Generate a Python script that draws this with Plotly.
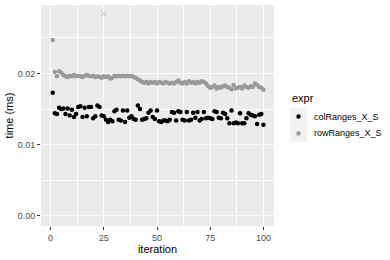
import plotly.graph_objects as go

iterations = list(range(1, 101))

col_ranges = [
    0.0173, 0.0144, 0.0143, 0.0152, 0.0150, 0.0151, 0.0143, 0.0151, 0.0141, 0.0149,
    0.0139, 0.0143, 0.0153, 0.0154, 0.0139, 0.0152, 0.0140, 0.0153, 0.0153, 0.0137,
    0.0140, 0.0155, 0.0153, 0.0141, 0.0140, 0.0135, 0.0132, 0.0135, 0.0133, 0.0147,
    0.0149, 0.0135, 0.0134, 0.0148, 0.0132, 0.0148, 0.0138, 0.0140, 0.0136, 0.0135,
    0.0155, 0.0150, 0.0135, 0.0136, 0.0137, 0.0145, 0.0148, 0.0139, 0.0136, 0.0148,
    0.0133, 0.0132, 0.0134, 0.0134, 0.0133, 0.0135, 0.0146, 0.0145, 0.0134, 0.0147,
    0.0146, 0.0135, 0.0134, 0.0146, 0.0134, 0.0135, 0.0145, 0.0138, 0.0146, 0.0134,
    0.0136, 0.0146, 0.0137, 0.0138, 0.0137, 0.0136, 0.0147, 0.0146, 0.0138, 0.0137,
    0.0145, 0.0143, 0.0137, 0.0130, 0.0148, 0.0130, 0.0131, 0.0130, 0.0144, 0.0130,
    0.0130, 0.0137, 0.0144, 0.0142, 0.0141, 0.0140, 0.0129, 0.0142, 0.0143, 0.0128,
]

row_ranges = [
    0.0247, 0.0202, 0.0196, 0.0203, 0.0201, 0.0198, 0.0196, 0.0195, 0.0197, 0.0196,
    0.0198, 0.0196, 0.0197, 0.0196, 0.0195, 0.0197, 0.0198, 0.0197, 0.0196, 0.0197,
    0.0195, 0.0196, 0.0195, 0.0194, 0.0196, 0.0195, 0.0196, 0.0193, 0.0194, 0.0197,
    0.0196, 0.0197, 0.0196, 0.0197, 0.0196, 0.0197, 0.0196, 0.0197, 0.0195, 0.0194,
    0.0192, 0.0190, 0.0188, 0.0187, 0.0188, 0.0186, 0.0188, 0.0187, 0.0188, 0.0186,
    0.0188, 0.0187, 0.0186, 0.0188, 0.0187, 0.0186, 0.0187, 0.0186, 0.0188, 0.0190,
    0.0187, 0.0186, 0.0188, 0.0186, 0.0189, 0.0187, 0.0188, 0.0186, 0.0188, 0.0187,
    0.0189, 0.0188, 0.0186, 0.0182, 0.0180, 0.0181, 0.0183, 0.0179, 0.0181, 0.0180,
    0.0182, 0.0183, 0.0181, 0.0180, 0.0178, 0.0184, 0.0179, 0.0180, 0.0181, 0.0179,
    0.0183, 0.0181, 0.0180, 0.0182, 0.0181, 0.0186, 0.0184, 0.0181, 0.0180, 0.0177,
]

outlier_x = [25]
outlier_y = [0.0284]

series_names = ["colRanges_X_S", "rowRanges_X_S"]
series_colors = ["#000000", "#999999"]

x_ticks = [0, 25, 50, 75, 100]
y_ticks = [0.00, 0.01, 0.02]
y_tick_labels = ["0.00", "0.01", "0.02"]

W, H = 390, 260
ML, MR, MT, MB = 41, 116, 5, 34
PW = W - ML - MR
PH = H - MT - MB


def px_to_paper_x(px):
    return (px - ML) / PW


def px_to_paper_y(py):
    return (H - MB - py) / PH


fig = go.Figure()
for name, color, values in zip(series_names, series_colors, [col_ranges, row_ranges]):
    fig.add_trace(go.Scatter(
        x=iterations, y=values, mode="markers", name=name, showlegend=False,
        marker=dict(color=color, size=4.5),
    ))
fig.add_trace(go.Scatter(
    x=outlier_x, y=outlier_y, mode="markers", showlegend=False,
    marker=dict(color="#BBBBBB", size=5, symbol="x-thin", line=dict(color="#BBBBBB", width=1)),
))

# legend drawn in ggplot style: title, grey95 keys, dots, labels
fig.add_annotation(
    text="expr", xref="paper", yref="paper",
    x=px_to_paper_x(290), y=px_to_paper_y(98),
    xanchor="left", yanchor="middle", showarrow=False,
    font=dict(size=11, color="#000000"),
)
for i, (name, color) in enumerate(zip(series_names, series_colors)):
    top = 108 + 17 * i
    cy = top + 8.5
    fig.add_shape(
        type="rect", xref="paper", yref="paper",
        x0=px_to_paper_x(290), x1=px_to_paper_x(307),
        y0=px_to_paper_y(top + 17), y1=px_to_paper_y(top),
        fillcolor="#F2F2F2", line=dict(width=0), layer="below",
    )
    r = 2.2
    fig.add_shape(
        type="circle", xref="paper", yref="paper",
        x0=px_to_paper_x(298.5 - r), x1=px_to_paper_x(298.5 + r),
        y0=px_to_paper_y(cy + r), y1=px_to_paper_y(cy - r),
        fillcolor=color, line=dict(width=0),
    )
    fig.add_annotation(
        text=name, xref="paper", yref="paper",
        x=px_to_paper_x(312), y=px_to_paper_y(cy),
        xanchor="left", yanchor="middle", showarrow=False,
        font=dict(size=9, color="#000000"),
    )

fig.update_layout(
    width=W, height=H,
    margin=dict(l=ML, r=MR, t=MT, b=MB, autoexpand=False),
    paper_bgcolor="white",
    plot_bgcolor="#EBEBEB",
    font=dict(family="Liberation Sans, Arial, sans-serif", color="#000000"),
    showlegend=False,
)
fig.update_xaxes(
    range=[-4.5, 104.95], tickvals=x_ticks, ticks="outside", ticklen=3,
    tickcolor="#333333", tickfont=dict(size=9, color="#4D4D4D"),
    showgrid=True, gridcolor="white", gridwidth=1.1, zeroline=False,
    minor=dict(tickvals=[12.5, 37.5, 62.5, 87.5], showgrid=True, gridcolor="white", gridwidth=0.5, ticks=""),
    title=dict(text="iteration", font=dict(size=11), standoff=2),
)
fig.update_yaxes(
    range=[-0.00142, 0.02962], tickvals=y_ticks, ticktext=y_tick_labels, ticks="outside", ticklen=3,
    tickcolor="#333333", tickfont=dict(size=9, color="#4D4D4D"),
    showgrid=True, gridcolor="white", gridwidth=1.1, zeroline=False,
    minor=dict(tickvals=[0.005, 0.015, 0.025], showgrid=True, gridcolor="white", gridwidth=0.5, ticks=""),
    title=dict(text="time (ms)", font=dict(size=11), standoff=1),
)

fig.write_html("out.html")
